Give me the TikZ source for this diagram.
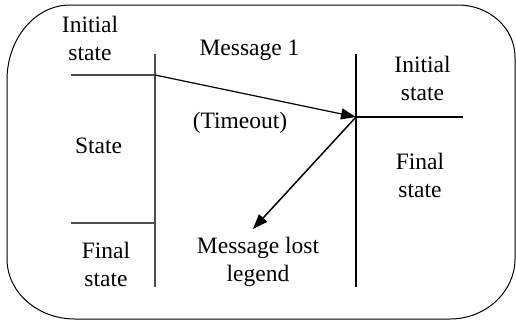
\documentclass[tikz,border=0pt]{standalone}
\usepackage{fontspec}
\setmainfont{Liberation Serif}
\usetikzlibrary{arrows.meta}
\begin{document}
\begin{tikzpicture}[x=1pt,y=-1pt,
  lbl/.style={font=\fontsize{23.5}{28}\selectfont, align=center, inner sep=0pt, anchor=base},
  frame/.style={line width=1pt},
  life/.style={line width=1.3pt, draw=black!70},
  statebar/.style={line width=1.3pt, draw=black!70},
  msg/.style={line width=1.2pt, -{Triangle[length=15pt,width=11pt]}}]
\useasboundingbox (0,0) rectangle (516,322);
% frame
\draw[frame] (70,5) -- (458,5)
  .. controls (489.5,5) and (515,28.3) .. (515,57)
  -- (515,259)
  .. controls (515,291.6) and (485.9,319) .. (450,319)
  -- (75,319)
  .. controls (37.5,319) and (7,292.1) .. (7,259)
  -- (7,80)
  .. controls (7,38.6) and (35.2,5) .. (70,5) -- cycle;
% lifelines
\coordinate (Ltop) at (155,54);
\coordinate (Lbot) at (155,287);
\coordinate (Rtop) at (356,54);
\coordinate (Rbot) at (356,287);
\draw[life] (Ltop) -- (Lbot);
\draw[life,draw=black] (Rtop) -- (Rbot);
% state bars
\coordinate (LinitW) at (71,75);
\coordinate (Lsend) at (155,75);
\coordinate (LfinW) at (71,223);
\coordinate (LfinE) at (155,223);
\coordinate (Rrecv) at (356,117);
\coordinate (RinitE) at (463,117);
\coordinate (lost) at (253,229);
\draw[statebar] (LinitW) -- (Lsend);
\draw[statebar] (LfinW) -- (LfinE);
\draw[line width=1.3pt] (Rrecv) -- (RinitE);
% messages
\draw[msg] (Lsend) -- (Rrecv);
\draw[msg,line width=1.5pt] (Rrecv) -- (lost);
% labels (base = baseline of the last line)
\node[lbl] (linit) at (90,60) {Initial\\state};
\node[lbl] (lstate) at (98.5,153) {State};
\node[lbl] (lfinal) at (106,286) {Final\\state};
\node[lbl] (m1) at (249.5,55) {Message 1};
\node[lbl] (tmo) at (240,128) {(Timeout)};
\node[lbl] (mlost) at (258,281) {Message lost\\legend};
\node[lbl] (rinit) at (422.5,100) {Initial\\state};
\node[lbl] (rfinal) at (420,197) {Final\\state};
\end{tikzpicture}
\end{document}
